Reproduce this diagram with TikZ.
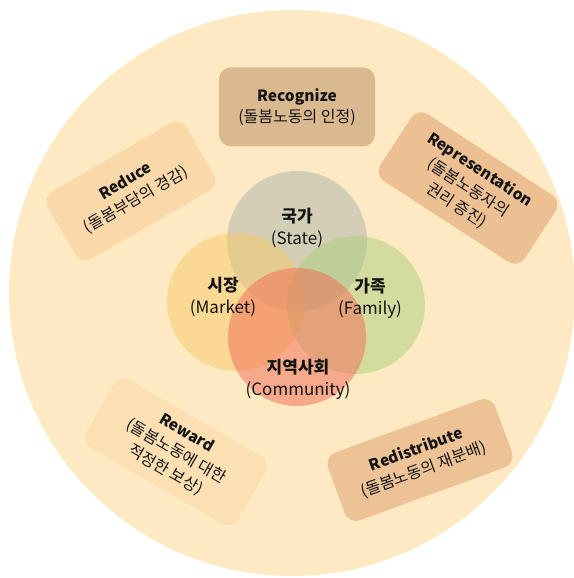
\documentclass[tikz,border=0pt]{standalone}
\usepackage{fontspec}
\setmainfont{Noto Sans CJK KR}
\definecolor{bigc}{RGB}{253,234,195}
\definecolor{cRecog}{RGB}{219,185,144}
\definecolor{cRep}{RGB}{237,192,148}
\definecolor{cRedis}{RGB}{236,194,150}
\definecolor{cReduce}{RGB}{251,216,170}
\definecolor{cReward}{RGB}{252,224,180}
\definecolor{cState}{RGB}{171,180,171}
\definecolor{cMarket}{RGB}{249,202,105}
\definecolor{cFamily}{RGB}{173,206,125}
\definecolor{cComm}{RGB}{243,106,85}
\definecolor{txt}{RGB}{20,20,20}
\newcommand{\hd}[1]{{\fontsize{15.5}{21}\selectfont\textbf{#1}}}
\tikzset{
  rbox/.style={rounded corners=12pt, inner sep=0pt, align=center, text=txt,
    font=\fontsize{16}{21.5}\selectfont},
  venn/.style={circle, inner sep=0pt, fill opacity=0.5, text opacity=1},
  vlabel/.style={align=center, text=txt, font=\fontsize{17}{22}\selectfont}
}
\begin{document}
\begin{tikzpicture}[x=1pt,y=1pt]
\useasboundingbox (0,0) rectangle (573,578);
\node[circle, fill=bigc, minimum size=566pt, inner sep=0pt] (big) at (292,285) {};
% boxes
\node[rbox, fill=cRecog, minimum width=156pt, minimum height=79pt] (recog) at (297,471)
  {\hd{Recognize}\\(돌봄노동의 인정)};
\node[rbox, fill=cReduce, minimum width=160pt, minimum height=78pt, rotate=30] (reduce) at (131,387)
  {\hd{Reduce}\\(돌봄부담의 경감)};
\node[rbox, fill=cRep, minimum width=172pt, minimum height=80pt, rotate=-33] (rep) at (468,390)
  {\hd{Representation}\\(돌봄노동자의\\권리 증진)};
\node[rbox, fill=cReward, minimum width=175pt, minimum height=78pt, rotate=-30] (reward) at (176,126)
  {\hd{Reward}\\(돌봄노동에 대한\\적정한 보상)};
\node[rbox, fill=cRedis, minimum width=178pt, minimum height=72pt, rotate=20] (redis) at (420,118)
  {\hd{Redistribute}\\(돌봄노동의 재분배)};
% venn
\node[venn, fill=cState, minimum size=140pt] (state) at (297,337) {};
\node[venn, fill=cMarket, minimum size=138pt] (market) at (236,276) {};
\node[venn, fill=cFamily, minimum size=138pt] (family) at (356,273) {};
\node[venn, fill=cComm, minimum size=138pt] (comm) at (297,241) {};
\node[vlabel] (tstate) at (297,350) {\textbf{국가}\\(State)};
\node[vlabel] (tmarket) at (223,281) {\textbf{시장}\\(Market)};
\node[vlabel] (tfamily) at (370,280) {\textbf{가족}\\(Family)};
\node[vlabel] (tcomm) at (298,199) {\textbf{지역사회}\\(Community)};
\end{tikzpicture}
\end{document}
